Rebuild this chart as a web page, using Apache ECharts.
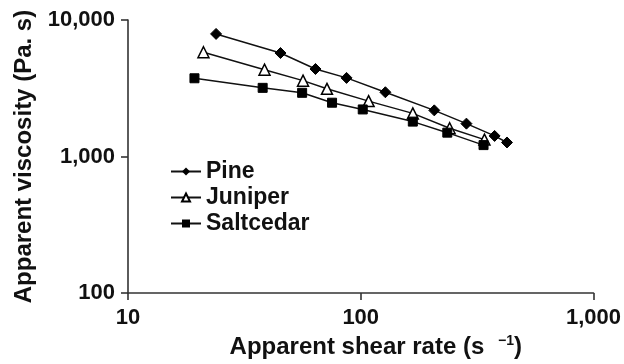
<!DOCTYPE html>
<html><head><meta charset="utf-8">
<script src="https://cdn.jsdelivr.net/npm/echarts@6/dist/echarts.min.js"></script>
<style>html,body{margin:0;padding:0;background:#fff}#c{width:624px;height:364px}</style>
</head><body><div id="c"></div>
<script>
var seriesNames = ['Pine', 'Juniper', 'Saltcedar'];
var pineX = [23.9, 45.2, 63.9, 86.9, 127.6, 207, 284.5, 376, 425];
var pineY = [7909, 5730, 4377, 3767, 2958, 2179, 1742, 1416, 1268];
var juniperX = [21.1, 38.6, 56.5, 71.6, 108.1, 167.4, 241, 340];
var juniperY = [5806, 4328, 3597, 3133, 2547, 2071, 1611, 1331];
var saltcedarX = [19.3, 37.9, 56.0, 75.3, 102, 167.4, 235.5, 337];
var saltcedarY = [3743, 3185, 2930, 2479, 2213, 1803, 1496, 1213];
var xTicks = [10, 100, 1000];
var yTicks = [100, 1000, 10000];

function pairs(xs, ys){ return xs.map(function(x,i){ return [x, ys[i]]; }); }
function fmt(v){ return String(Math.round(v)).replace(/\B(?=(\d{3})+(?!\d))/g, ','); }
var FONT = 'Liberation Sans, Arial, Helvetica, sans-serif';
var chart = echarts.init(document.getElementById('c'), null, {renderer:'canvas'});
var axisLine = {show:true, lineStyle:{color:'#333', width:1.6}};
var tick = {show:true, length:7, lineStyle:{color:'#333', width:1.6}};
var lineStyle = {color:'#111', width:1.5};
chart.setOption({
  animation:false,
  backgroundColor:'#fff',
  grid:{left:128, right:29, top:20, bottom:69, containLabel:false},
  legend:{
    orient:'vertical', left:165, top:155, itemWidth:30, itemHeight:10, itemGap:3,
    data:seriesNames,
    textStyle:{fontFamily:FONT, fontWeight:'bold', fontSize:23, color:'#111'}
  },
  xAxis:{
    type:'log', logBase:10, min:xTicks[0], max:xTicks[2],
    axisLine:axisLine, axisTick:tick,
    splitLine:{show:false}, minorTick:{show:false},
    axisLabel:{formatter:fmt, fontFamily:FONT, fontWeight:'bold', fontSize:22, color:'#111', margin:14},
    name:'{a|Apparent shear rate (s }{s|\u22121}{a|)}', nameLocation:'middle', nameGap:37,
    nameTextStyle:{padding:[0,0,0,30], rich:{
      a:{fontFamily:FONT, fontWeight:'bold', fontSize:24, color:'#111'},
      s:{fontFamily:FONT, fontWeight:'bold', fontSize:14, color:'#111', verticalAlign:'top', padding:[0,0,12,7]}
    }}
  },
  yAxis:{
    type:'log', logBase:10, min:yTicks[0], max:yTicks[2],
    axisLine:axisLine, axisTick:tick,
    splitLine:{show:false}, minorTick:{show:false},
    axisLabel:{formatter:fmt, fontFamily:FONT, fontWeight:'bold', fontSize:22, color:'#111', margin:13},
    name:'Apparent viscosity (Pa. s)', nameLocation:'middle', nameGap:91,
    nameTextStyle:{fontFamily:FONT, fontWeight:'bold', fontSize:24, color:'#111'}
  },
  series:[
    {name:seriesNames[0], type:'line', data:pairs(pineX,pineY), symbol:'diamond', symbolSize:11,
      lineStyle:lineStyle, itemStyle:{color:'#000', borderColor:'#000'}},
    {name:seriesNames[1], type:'line', data:pairs(juniperX,juniperY), symbol:'triangle', symbolSize:11,
      lineStyle:lineStyle, itemStyle:{color:'#fff', borderColor:'#000', borderWidth:1.5}},
    {name:seriesNames[2], type:'line', data:pairs(saltcedarX,saltcedarY), symbol:'rect', symbolSize:9,
      lineStyle:lineStyle, itemStyle:{color:'#000', borderColor:'#000'}}
  ]
});
</script></body></html>
